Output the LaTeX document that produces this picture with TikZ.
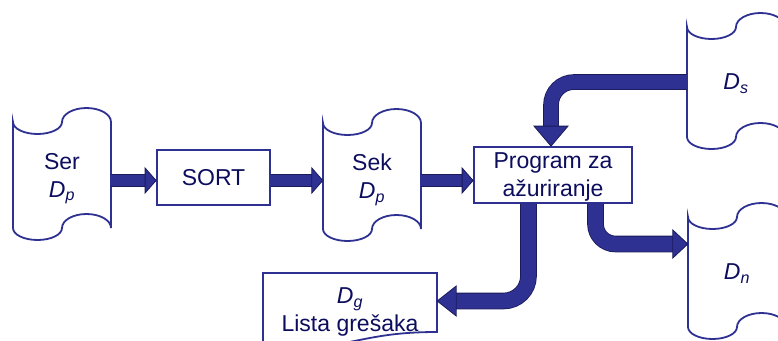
\documentclass[tikz,border=0pt]{standalone}
\usepackage{fontspec}
\setmainfont{Liberation Sans}
\usetikzlibrary{calc}
\definecolor{tapeblue}{HTML}{2E3192}
\definecolor{arrfill}{HTML}{2E3192}
\definecolor{arrdark}{HTML}{1A1A5A}
\definecolor{txt}{HTML}{0D0D5E}
\newcommand\dsub[2]{\textit{#1}\textsubscript{\textit{#2}}}
\newcommand\tapepath[3]{%
  \draw[tapeline] (#1,#2)
     arc[start angle=180,end angle=360,x radius=24.5pt,y radius=12pt]
     arc[start angle=180,end angle=0,x radius=24.5pt,y radius=14pt]
     -- ++(0,#3)
     arc[start angle=0,end angle=180,x radius=24.5pt,y radius=14pt]
     arc[start angle=0,end angle=-180,x radius=24.5pt,y radius=12pt]
     -- cycle;}
\newcommand\fatarrow[5]{%
  \draw[arrout, line width={#2+1.6pt}] #1;
  \draw[arrin, line width=#2] #1;
  \filldraw[arrhead] #3 -- #4 -- #5 -- cycle;}
\begin{document}
\begin{tikzpicture}[x=1pt,y=-1pt,
  tapeline/.style={draw=tapeblue, line width=1.8pt, fill=white},
  tapetext/.style={text=txt, align=center, inner sep=0pt, minimum width=98pt,
    text depth=0pt, font=\fontsize{23}{28}\selectfont},
  procbox/.style={draw=tapeblue, line width=1.8pt, fill=white, text=txt, align=center,
    inner sep=0pt, text depth=0pt, font=\fontsize{23}{28}\selectfont},
  arrout/.style={draw=arrdark},
  arrin/.style={draw=arrfill},
  arrhead/.style={fill=arrfill, draw=arrdark, line width=0.8pt, line join=miter}]
\useasboundingbox (0,0) rectangle (778,340);
\clip (0,0) rectangle (778,340);

% tapes
\tapepath{13}{122}{106}
\node[tapetext, minimum height=106pt] (ser) at (62,175) {Ser\\\dsub{D}{p}};
\tapepath{323}{123}{106}
\node[tapetext, minimum height=106pt] (sek) at (372,176) {Sek\\\dsub{D}{p}};
\tapepath{687}{27}{110}
\node[tapetext, minimum height=110pt] (ds) at (736,82) {\dsub{D}{s}};
\tapepath{688}{217}{110}
\node[tapetext, minimum height=110pt] (dn) at (737,272) {\dsub{D}{n}};

% document
\draw[tapeline] (263,273) -- (437,273) -- (437,332)
   .. controls (350,332) and (350,355) .. (263,342) -- cycle;
\node[tapetext, minimum width=174pt, minimum height=74pt] (lista) at (350,310)
   {\dsub{D}{g}\\Lista grešaka};

% process boxes
\node[procbox, minimum width=113pt, minimum height=55pt] (sort) at (213.5,177.5) {SORT};
\node[procbox, minimum width=158pt, minimum height=56pt] (prog) at (553,175) {Program za\\ažuriranje};

% arrows
\coordinate (t1) at ([yshift=-3pt]sort.west);
\fatarrow{(ser.east |- t1) -- ($(t1)+(-11,0)$)}{11pt}{(t1)}{($(t1)+(-11,-12.5)$)}{($(t1)+(-11,12.5)$)}
\coordinate (t2) at ([yshift=-4.5pt]sek.west);
\fatarrow{(sort.east |- t2) -- ($(t2)+(-11,0)$)}{11pt}{(t2)}{($(t2)+(-11,-12.5)$)}{($(t2)+(-11,12.5)$)}
\coordinate (t3) at ([yshift=-5.5pt]prog.west);
\fatarrow{(sek.east |- t3) -- ($(t3)+(-11,0)$)}{11pt}{(t3)}{($(t3)+(-11,-12.5)$)}{($(t3)+(-11,12.5)$)}

\coordinate (t4) at ([xshift=-2pt]prog.north);
\fatarrow{[rounded corners=23pt] (ds.west) -| ($(t4)+(0,-20)$)}{14pt}{(t4)}{($(t4)+(-17,-20)$)}{($(t4)+(17,-20)$)}

\coordinate (s5) at ([xshift=-24.5pt]prog.south);
\coordinate (t5) at ([yshift=9pt]lista.east);
\fatarrow{[rounded corners=25pt] (s5) |- ($(t5)+(19,0)$)}{15pt}{(t5)}{($(t5)+(19,-15)$)}{($(t5)+(19,15)$)}

\coordinate (s6) at ([xshift=42.5pt]prog.south);
\coordinate (t6) at ([yshift=28pt]dn.west);
\fatarrow{[rounded corners=20pt] (s6) |- ($(t6)+(-15,0)$)}{15pt}{(t6)}{($(t6)+(-15,-14)$)}{($(t6)+(-15,14)$)}
\end{tikzpicture}
\end{document}
